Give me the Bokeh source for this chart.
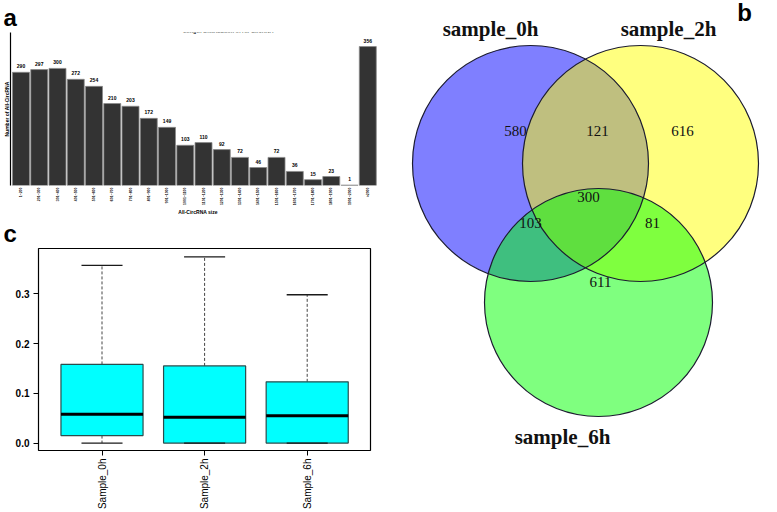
import math
from bokeh.plotting import figure
from bokeh.models import Range1d, FixedTicker, Label, PrintfTickFormatter
from bokeh.layouts import row, column
from bokeh.embed import file_html
from bokeh.resources import INLINE
from bokeh.core.properties import value

# ---------------- data ----------------
# Panel a: length distribution
length_bins = ["1~200", "201~300", "301~400", "401~500", "501~600", "601~700",
               "701~800", "801~900", "901~1000", "1001~1100", "1101~1200",
               "1201~1300", "1301~1400", "1401~1500", "1501~1600", "1601~1700",
               "1701~1800", "1801~1900", "1901~2000", ">2000"]
circ_counts = [290, 297, 300, 272, 254, 210, 203, 172, 149, 103, 110, 92, 72,
               46, 72, 36, 15, 23, 1, 356]

# Panel b: Venn diagram
venn_sets = ["sample_0h", "sample_2h", "sample_6h"]
venn_regions = ["0h", "0h&2h", "2h", "0h&2h&6h", "0h&6h", "2h&6h", "6h"]
venn_counts = [580, 121, 616, 300, 103, 81, 611]

# Panel c: boxplot
box_samples = ["Sample_0h", "Sample_2h", "Sample_6h"]
box_lower = [0.0, 0.0, 0.0]
box_q1 = [0.015, 0.0, 0.0]
box_median = [0.058, 0.052, 0.055]
box_q3 = [0.158, 0.155, 0.123]
box_upper = [0.357, 0.374, 0.298]

SANS = value("Liberation Sans")
SERIF = value("Liberation Serif")


def style_letter(title, letter, offset):
    title.text = letter
    title.align = "left"
    title.vertical_align = "top"
    title.offset = offset
    title.standoff = 0
    title.text_font = "Liberation Sans"
    title.text_font_size = "24px"
    title.text_font_style = "bold"
    title.text_color = "black"


# ---------------- panel a ----------------
pa = figure(width=385, height=218, output_backend="svg", toolbar_location=None,
            x_range=Range1d(-0.575, 19.97), y_range=Range1d(0, 392),
            min_border_left=10, min_border_right=0, min_border_top=32,
            min_border_bottom=33)
style_letter(pa.title, "a", -7)
pa.grid.visible = False
pa.outline_line_color = None
xi = list(range(len(circ_counts)))
pa.vbar(x=xi, top=circ_counts, bottom=0, width=0.93, fill_color="#333333",
        line_color="#8a8a8a", line_width=0.8)
pa.text(x=xi, y=circ_counts, text=[str(c) for c in circ_counts],
        text_font=SANS, text_font_size="5px", text_font_style="bold",
        text_align="center", text_baseline="bottom", y_offset=-4, text_color="black")
pa.xaxis.ticker = FixedTicker(ticks=xi)
pa.xaxis.major_label_overrides = {i: l for i, l in enumerate(length_bins)}
pa.xaxis.major_label_orientation = math.pi / 2
pa.xaxis.major_label_text_font_size = "3.5px"
pa.xaxis.major_label_text_font = "Liberation Sans"
pa.xaxis.major_label_text_font_style = "bold"
pa.xaxis.major_label_text_color = "black"
pa.xaxis.major_label_standoff = 2
pa.xaxis.major_tick_out = 0
pa.xaxis.major_tick_in = 0
pa.xaxis.axis_line_color = None
pa.xaxis.major_tick_line_color = None
pa.xaxis.minor_tick_line_color = None
pa.xaxis.axis_label = "All-CircRNA size"
pa.xaxis.axis_label_text_font_size = "5px"
pa.xaxis.axis_label_text_font = "Liberation Sans"
pa.xaxis.axis_label_text_font_style = "bold"
pa.xaxis.axis_label_text_color = "black"
pa.xaxis.axis_label_standoff = 1
pa.yaxis.ticker = FixedTicker(ticks=[])
pa.yaxis.major_tick_line_color = None
pa.yaxis.minor_tick_line_color = None
pa.yaxis.major_tick_out = 0
pa.yaxis.major_tick_in = 0
pa.yaxis.major_label_standoff = 0
pa.yaxis.major_label_text_font_size = "0px"
pa.yaxis.axis_line_color = "black"
pa.yaxis.axis_line_width = 1.2
pa.yaxis.axis_label = "Number of All-CircRNA"
pa.yaxis.axis_label_text_font_size = "5px"
pa.yaxis.axis_label_text_font = "Liberation Sans"
pa.yaxis.axis_label_text_font_style = "bold"
pa.yaxis.axis_label_text_color = "black"
pa.yaxis.axis_label_standoff = 1
pa.add_layout(Label(x=11.37, y=397, text="Length Distribution of All-CircRNA",
                    text_font="Liberation Sans", text_font_size="5.5px",
                    text_font_style="bold", text_align="center",
                    text_baseline="middle", text_color="black"))

# ---------------- panel c ----------------
pc = figure(width=385, height=294, output_backend="svg", toolbar_location=None,
            x_range=Range1d(0.381, 3.617), y_range=Range1d(-0.015, 0.391),
            min_border_left=38, min_border_right=15, min_border_top=30)
style_letter(pc.title, "c", -35)
pc.grid.visible = False
pc.outline_line_color = "black"
pc.outline_line_width = 1.2
bx = [1, 2, 3]
pc.segment(x0=bx, y0=box_q3, x1=bx, y1=box_upper, line_color="#444444",
           line_width=1, line_dash="3 2")
pc.segment(x0=bx, y0=box_q1, x1=bx, y1=box_lower, line_color="#444444",
           line_width=1, line_dash="3 2")
pc.vbar(x=bx, top=box_q3, bottom=box_q1, width=0.8, fill_color="#00FFFF",
        line_color="#2a4d4d", line_width=1.2)
pc.segment(x0=[b - 0.4 for b in bx], y0=box_median, x1=[b + 0.4 for b in bx],
           y1=box_median, line_color="black", line_width=3)
pc.segment(x0=[b - 0.2 for b in bx], y0=box_upper, x1=[b + 0.2 for b in bx],
           y1=box_upper, line_color="#1a1a1a", line_width=1.3)
pc.segment(x0=[b - 0.2 for b in bx], y0=box_lower, x1=[b + 0.2 for b in bx],
           y1=box_lower, line_color="#1a1a1a", line_width=1.3)
pc.xaxis.ticker = FixedTicker(ticks=bx)
pc.xaxis.major_label_overrides = {i + 1: s for i, s in enumerate(box_samples)}
pc.xaxis.major_label_orientation = math.pi / 2
pc.xaxis.major_label_text_font_size = "10px"
pc.xaxis.major_label_text_font = "Liberation Sans"
pc.xaxis.major_label_text_color = "black"
pc.xaxis.major_label_standoff = 3
pc.xaxis.axis_line_color = None
pc.xaxis.major_tick_out = 5
pc.xaxis.major_tick_in = 0
pc.xaxis.minor_tick_line_color = None
pc.yaxis.ticker = FixedTicker(ticks=[0.0, 0.1, 0.2, 0.3])
pc.yaxis.formatter = PrintfTickFormatter(format="%.1f")
pc.yaxis.major_label_text_font_size = "10px"
pc.yaxis.major_label_text_font = "Liberation Sans"
pc.yaxis.major_label_text_font_style = "bold"
pc.yaxis.major_label_text_color = "black"
pc.yaxis.major_label_standoff = 4
pc.yaxis.axis_line_color = None
pc.yaxis.major_tick_out = 5
pc.yaxis.major_tick_in = 0
pc.yaxis.minor_tick_line_color = None

# ---------------- panel b ----------------
pb = figure(width=392, height=512, output_backend="svg", toolbar_location=None,
            x_range=Range1d(385, 777), y_range=Range1d(512, 0),
            min_border=0)
pb.axis.visible = False
pb.grid.visible = False
pb.outline_line_color = None
cx = [530, 640, 598]
cy = [163, 163, 302]
cr = [118, 118, 114]
set_colors = ["#0000FF", "#FFFF00", "#00FF00"]
pb.circle(x=cx, y=cy, radius=cr, fill_color=set_colors, fill_alpha=0.5,
          line_color=None)
pb.circle(x=cx, y=cy, radius=cr, fill_color=None, line_color="#1c1c30",
          line_width=1.2)
rx = [515, 597, 682, 588, 530, 652, 600]
ry = [130, 130, 130, 196, 222, 222, 281]
pb.text(x=rx, y=ry, text=[str(v) for v in venn_counts], text_font=SERIF,
        text_font_size="15px", text_align="center", text_baseline="middle",
        text_color="#111111")
pb.text(x=[490, 668, 562], y=[28, 28, 436], text=venn_sets, text_font=SERIF,
        text_font_size="21px", text_font_style="bold", text_align="center",
        text_baseline="middle", text_color="#111111")
pb.text(x=[744], y=[12], text=["b"], text_font=SANS, text_font_size="24px",
        text_font_style="bold", text_align="center", text_baseline="middle")

layout = row(column(row(pa), row(pc)), pb)
open("out.html", "w").write(file_html(layout, INLINE))
